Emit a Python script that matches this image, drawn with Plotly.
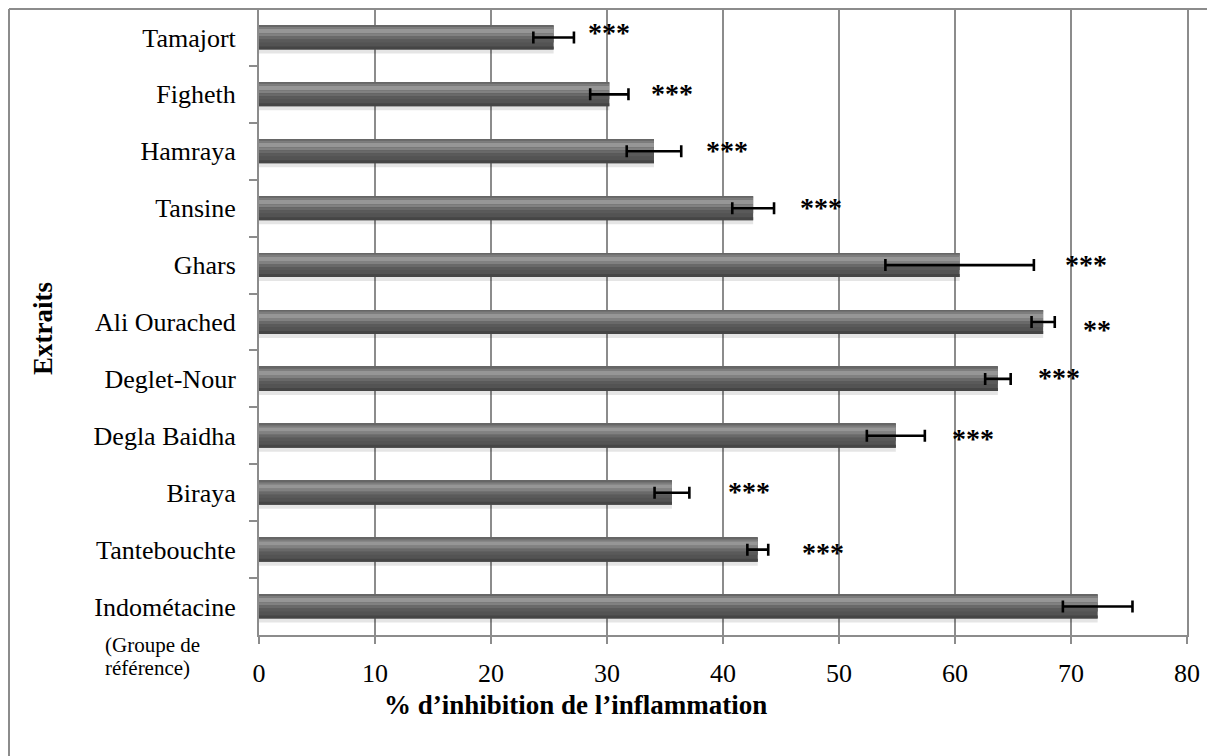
import plotly.graph_objects as go

# ---- data ----
categories = ["Tamajort", "Figheth", "Hamraya", "Tansine", "Ghars", "Ali Ourached",
              "Deglet-Nour", "Degla Baidha", "Biraya", "Tantebouchte", "Indométacine"]
inhibition = [25.4, 30.2, 34.05, 42.6, 60.4, 67.6, 63.7, 54.9, 35.6, 43.0, 72.3]
sem = [1.75, 1.65, 2.35, 1.8, 6.4, 1.0, 1.1, 2.5, 1.5, 0.9, 3.0]
stars = ["***", "***", "***", "***", "***", "**", "***", "***", "***", "***", ""]
star_x = [28.2, 33.6, 38.4, 46.5, 69.3, 70.9, 67.0, 59.6, 40.3, 46.6, None]
star_dy = [-4, 0, 0, 0, 0, 8, 0, 4, 0, 4, 0]
x_ticks = [0, 10, 20, 30, 40, 50, 60, 70, 80]

FONT = "Liberation Serif, Times New Roman, serif"
GRID = "#8c8c8c"

# the page body has an 8px default margin: work in page pixels, convert
OFF = 8
W, H = 1215 - OFF, 756 - OFF
ML = 259 - OFF          # x = 0 at page pixel 259
MR = W - (1187 - OFF)   # x = 80 at page pixel 1187
MT = 1
MB = H - (635 - OFF)    # axis line at page pixel 635
PW, PH = W - ML - MR, H - MT - MB
CAT_PX = PH / len(categories)
u = 1.0 / CAT_PX  # one pixel in category units

def px_x(p):
    return (p - OFF - ML) / PW

def px_y(p):
    return (H - MB - (p - OFF)) / PH

BAR_PX = 24
top = -BAR_PX / 2 * u

fig = go.Figure()

# bevel / gradient imitation: (start px from bar top, end px, colour)
layers = [
    (24, 28, "rgba(0,0,0,0.10)"),
    (0, 24, "#535353"),
    (0, 1.5, "#666666"),
    (1.5, 3.5, "#7d7d7d"),
    (3.5, 8, "#969696"),
    (8, 11, "#818181"),
    (11, 14, "#696969"),
    (14, 17, "#5a5a5a"),
    (21, 24, "#454545"),
]
for a, b, col in layers:
    fig.add_trace(go.Bar(
        x=inhibition, y=categories, orientation="h",
        offset=top + a * u, width=(b - a) * u,
        marker=dict(color=col, line=dict(width=0)),
        hoverinfo="skip", showlegend=False,
    ))

# transparent carrier trace for the error bars (drawn last, on top)
fig.add_trace(go.Bar(
    x=inhibition, y=categories, orientation="h",
    offset=top, width=BAR_PX * u,
    marker=dict(color="rgba(0,0,0,0)", line=dict(width=0)),
    error_x=dict(type="data", array=sem, color="black", thickness=2.6, width=6),
    showlegend=False,
))

annotations = []
for cat, s, sx, dy in zip(categories, stars, star_x, star_dy):
    if s and sx is not None:
        annotations.append(dict(
            x=sx, y=cat, xref="x", yref="y", text="<b>" + s + "</b>", showarrow=False,
            xanchor="left", yanchor="middle", yshift=-dy + 1,
            font=dict(family=FONT, size=28, color="black"),
        ))

annotations += [
    dict(x=px_x(575), y=px_y(705), xref="paper", yref="paper",
         text="<b>% d’inhibition de l’inflammation</b>", showarrow=False,
         xanchor="center", yanchor="middle",
         font=dict(family=FONT, size=27, color="black")),
    dict(x=px_x(43), y=px_y(329), xref="paper", yref="paper",
         text="<b>Extraits</b>", showarrow=False, textangle=-90,
         xanchor="center", yanchor="middle",
         font=dict(family=FONT, size=27, color="black")),
    dict(x=px_x(103), y=px_y(645), xref="paper", yref="paper",
         text="(Groupe de", showarrow=False, xanchor="left", yanchor="middle",
         font=dict(family=FONT, size=21, color="black")),
    dict(x=px_x(103), y=px_y(668), xref="paper", yref="paper",
         text="référence)", showarrow=False, xanchor="left", yanchor="middle",
         font=dict(family=FONT, size=21, color="black")),
]

shapes = [
    dict(type="line", xref="paper", yref="paper",
         x0=px_x(9), y0=px_y(9), x1=px_x(1240), y1=px_y(9),
         line=dict(color=GRID, width=2)),
    dict(type="line", xref="paper", yref="paper",
         x0=px_x(9), y0=px_y(9), x1=px_x(9), y1=px_y(780),
         line=dict(color=GRID, width=2)),
]

fig.update_layout(
    width=W, height=H,
    margin=dict(l=ML, r=MR, t=MT, b=MB, pad=0, autoexpand=False),
    paper_bgcolor="white", plot_bgcolor="white",
    barmode="overlay",
    font=dict(family=FONT, size=26, color="black"),
    showlegend=False,
    annotations=annotations,
    shapes=shapes,
    xaxis=dict(
        range=[0, 80], tickvals=x_ticks, ticktext=[str(t) for t in x_ticks],
        showgrid=True, gridcolor=GRID, gridwidth=2,
        showline=True, linecolor=GRID, linewidth=2, mirror=True,
        ticks="outside", ticklen=7, tickcolor=GRID, tickwidth=2,
        ticklabelstandoff=7, zeroline=False, automargin=False,
        tickfont=dict(family=FONT, size=26, color="black"),
    ),
    yaxis=dict(
        type="category", categoryorder="array", categoryarray=categories,
        autorange="reversed", automargin=False,
        showgrid=False, showline=True, linecolor=GRID, linewidth=2, mirror=True,
        ticks="outside", tickson="boundaries", ticklen=8, tickcolor=GRID, tickwidth=2,
        ticklabelstandoff=16,
        tickfont=dict(family=FONT, size=26, color="black"),
    ),
)

fig.write_html("out.html")
